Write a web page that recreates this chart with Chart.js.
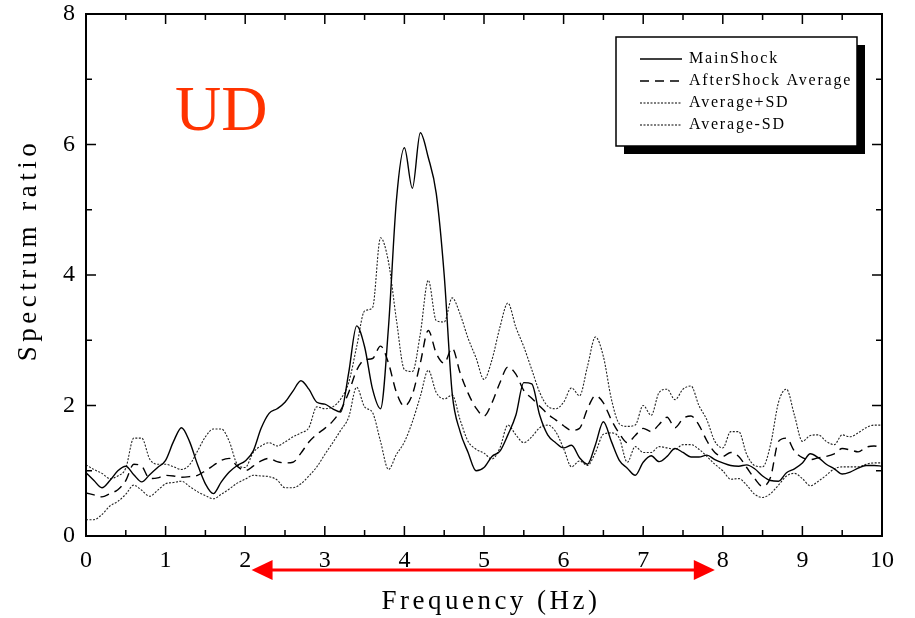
<!DOCTYPE html>
<html>
<head>
<meta charset="utf-8">
<script src="https://cdn.jsdelivr.net/npm/chart.js@4.4.1/dist/chart.umd.min.js"></script>
<style>
  html, body { margin: 0; padding: 0; background: #fff; }
  canvas { display: block; }
</style>
</head>
<body>
<canvas id="chartCanvas" width="915" height="618"></canvas>
<script>
// Frequency grid (Hz), one value every 0.1 Hz
const freq = [
  0.0, 0.1, 0.2, 0.3, 0.4, 0.5, 0.6, 0.7, 0.8, 0.9,
  1.0, 1.1, 1.2, 1.3, 1.4, 1.5, 1.6, 1.7, 1.8, 1.9,
  2.0, 2.1, 2.2, 2.3, 2.4, 2.5, 2.6, 2.7, 2.8, 2.9,
  3.0, 3.1, 3.2, 3.3, 3.4, 3.5, 3.6, 3.7, 3.8, 3.9,
  4.0, 4.1, 4.2, 4.3, 4.4, 4.5, 4.6, 4.7, 4.8, 4.9,
  5.0, 5.1, 5.2, 5.3, 5.4, 5.5, 5.6, 5.7, 5.8, 5.9,
  6.0, 6.1, 6.2, 6.3, 6.4, 6.5, 6.6, 6.7, 6.8, 6.9,
  7.0, 7.1, 7.2, 7.3, 7.4, 7.5, 7.6, 7.7, 7.8, 7.9,
  8.0, 8.1, 8.2, 8.3, 8.4, 8.5, 8.6, 8.7, 8.8, 8.9,
  9.0, 9.1, 9.2, 9.3, 9.4, 9.5, 9.6, 9.7, 9.8, 9.9,
  10.0
];

// Spectrum ratio values
const mainShock = [
  0.97, 0.85, 0.74, 0.85, 1.00, 1.07, 0.94, 0.83, 0.94, 1.05,
  1.16, 1.45, 1.66, 1.45, 1.10, 0.80, 0.65, 0.83, 0.98, 1.08,
  1.15, 1.30, 1.65, 1.88, 1.95, 2.05, 2.22, 2.38, 2.25, 2.05,
  2.02, 1.95, 1.90, 2.50, 3.22, 2.90, 2.25, 1.95, 3.20, 5.15,
  5.95, 5.33, 6.18, 5.80, 5.25, 4.00, 2.19, 1.60, 1.28, 1.00,
  1.05, 1.22, 1.30, 1.55, 1.85, 2.35, 2.33, 1.85, 1.55, 1.43,
  1.35, 1.39, 1.20, 1.10, 1.40, 1.75, 1.45, 1.16, 1.04, 0.93,
  1.13, 1.23, 1.14, 1.22, 1.34, 1.28, 1.21, 1.21, 1.24, 1.17,
  1.12, 1.08, 1.07, 1.09, 1.03, 0.92, 0.85, 0.84, 0.97, 1.03,
  1.12, 1.26, 1.20, 1.10, 1.03, 0.95, 0.98, 1.04, 1.08, 1.08,
  1.07
];

const afterShockAvg = [
  0.66, 0.63, 0.60, 0.65, 0.71, 0.85, 1.10, 1.07, 0.88, 0.89,
  0.93, 0.92, 0.90, 0.91, 0.93, 1.00, 1.08, 1.16, 1.19, 1.07,
  1.00, 1.07, 1.15, 1.19, 1.14, 1.12, 1.13, 1.27, 1.44, 1.56,
  1.65, 1.76, 1.93, 2.20, 2.54, 2.70, 2.72, 2.91, 2.65, 2.20,
  1.99, 2.17, 2.65, 3.15, 2.80, 2.65, 2.88, 2.50, 2.19, 1.96,
  1.84, 2.04, 2.35, 2.59, 2.48, 2.23, 2.11, 1.99, 1.87, 1.78,
  1.69, 1.62, 1.65, 1.95, 2.15, 2.04, 1.78, 1.57, 1.43, 1.54,
  1.65, 1.60, 1.71, 1.82, 1.66, 1.80, 1.84, 1.70, 1.46, 1.28,
  1.22, 1.28, 1.22, 1.05, 0.88, 0.76, 0.90, 1.45, 1.50, 1.30,
  1.20, 1.17, 1.20, 1.22, 1.26, 1.34, 1.32, 1.29, 1.36, 1.38,
  1.35
];

const avgPlusSD = [
  1.09, 1.02, 0.96, 0.88, 0.92, 1.04, 1.50, 1.50, 1.18, 1.10,
  1.10, 1.06, 1.02, 1.09, 1.30, 1.52, 1.64, 1.64, 1.45, 1.10,
  1.05, 1.28, 1.38, 1.43, 1.38, 1.44, 1.52, 1.58, 1.66, 1.98,
  1.95, 1.98, 2.10, 2.35, 2.90, 3.45, 3.50, 4.57, 4.20, 3.31,
  2.55, 2.52, 3.10, 3.92, 3.30, 3.28, 3.65, 3.40, 3.03, 2.73,
  2.40, 2.70, 3.20, 3.57, 3.20, 2.90, 2.55, 2.20, 1.99, 1.95,
  2.05, 2.27, 2.15, 2.60, 3.05, 2.75, 2.10, 1.72, 1.68, 1.70,
  2.00, 1.85, 2.20, 2.25, 2.09, 2.25, 2.30, 2.00, 1.78, 1.45,
  1.35, 1.60, 1.60, 1.25, 1.08, 1.06, 1.40, 2.05, 2.25, 1.85,
  1.45, 1.54, 1.55, 1.45, 1.40, 1.55, 1.52, 1.58, 1.66, 1.70,
  1.70
];

const avgMinusSD = [
  0.25, 0.25, 0.33, 0.46, 0.53, 0.64, 0.78, 0.70, 0.61, 0.70,
  0.80, 0.82, 0.84, 0.76, 0.68, 0.62, 0.57, 0.64, 0.72, 0.81,
  0.87, 0.93, 0.92, 0.91, 0.86, 0.74, 0.74, 0.80, 0.92, 1.06,
  1.25, 1.43, 1.62, 1.82, 2.28, 1.98, 1.89, 1.45, 1.02, 1.25,
  1.44, 1.75, 2.14, 2.54, 2.20, 2.10, 2.16, 1.78, 1.45, 1.33,
  1.27, 1.18, 1.35, 1.70, 1.55, 1.43, 1.52, 1.66, 1.70, 1.60,
  1.34, 1.06, 1.15, 1.08, 1.28, 1.56, 1.58, 1.50, 1.13, 1.37,
  1.28, 1.28, 1.37, 1.35, 1.33, 1.40, 1.40, 1.33, 1.22, 1.10,
  1.00, 0.87, 0.88, 0.78, 0.64, 0.59, 0.65, 0.78, 0.92, 0.96,
  0.88, 0.77, 0.84, 0.93, 1.03, 1.06, 1.06, 1.06, 1.10, 1.12,
  1.12
];

// Frequency band marked by the red arrow (Hz)
const arrowBand = [2.08, 7.9];

const xTitle = 'Frequency (Hz)';
const yTitle = 'Spectrum ratio';
const componentLabel = 'UD';

function toPoints(values) {
    return freq.map(function(f, i) { return { x: f, y: values[i] }; });
}

// Frame, inward ticks, axis titles, legend box, arrow and the UD label
const decorPlugin = {
    id: 'decor',
    afterDraw: function(chart) {
        const ctx = chart.ctx;
        const area = chart.chartArea;
        const xs = chart.scales.x;
        const ys = chart.scales.y;
        ctx.save();

        // frame
        ctx.strokeStyle = '#000';
        ctx.lineWidth = 2;
        ctx.strokeRect(area.left, area.top, area.right - area.left, area.bottom - area.top);

        // inward ticks on all four sides
        ctx.lineWidth = 1.5;
        ctx.beginPath();
        xs.ticks.forEach(function(t, i) {
            const px = xs.getPixelForValue(t.value);
            ctx.moveTo(px, area.bottom); ctx.lineTo(px, area.bottom - 10);
            ctx.moveTo(px, area.top); ctx.lineTo(px, area.top + 10);
            if (i < xs.ticks.length - 1) {
                const mx = xs.getPixelForValue((t.value + xs.ticks[i + 1].value) / 2);
                ctx.moveTo(mx, area.bottom); ctx.lineTo(mx, area.bottom - 6);
                ctx.moveTo(mx, area.top); ctx.lineTo(mx, area.top + 6);
            }
        });
        ys.ticks.forEach(function(t, i) {
            const py = ys.getPixelForValue(t.value);
            ctx.moveTo(area.left, py); ctx.lineTo(area.left + 10, py);
            ctx.moveTo(area.right, py); ctx.lineTo(area.right - 10, py);
            if (i < ys.ticks.length - 1) {
                const my = ys.getPixelForValue((t.value + ys.ticks[i + 1].value) / 2);
                ctx.moveTo(area.left, my); ctx.lineTo(area.left + 6, my);
                ctx.moveTo(area.right, my); ctx.lineTo(area.right - 6, my);
            }
        });
        ctx.stroke();

        // axis titles (spaced serif to look like the original monospace face)
        ctx.fillStyle = '#000';
        ctx.font = '27px "Liberation Serif"';
        ctx.textAlign = 'center';
        ctx.textBaseline = 'middle';
        ctx.letterSpacing = '3.5px';
        ctx.fillText(xTitle, (area.left + area.right) / 2 + 7, 602);
        ctx.save();
        ctx.translate(29, 250);
        ctx.rotate(-Math.PI / 2);
        ctx.letterSpacing = '4.5px';
        ctx.fillText(yTitle, 0, 0);
        ctx.restore();
        ctx.letterSpacing = '0px';

        // red double arrow under the axis
        const ax1 = xs.getPixelForValue(arrowBand[0]);
        const ax2 = xs.getPixelForValue(arrowBand[1]);
        const ay = 570;
        ctx.strokeStyle = '#ff0000';
        ctx.fillStyle = '#ff0000';
        ctx.lineWidth = 3;
        ctx.beginPath();
        ctx.moveTo(ax1 + 15, ay); ctx.lineTo(ax2 - 15, ay);
        ctx.stroke();
        ctx.beginPath();
        ctx.moveTo(ax1, ay); ctx.lineTo(ax1 + 21, ay - 10); ctx.lineTo(ax1 + 21, ay + 10);
        ctx.closePath(); ctx.fill();
        ctx.beginPath();
        ctx.moveTo(ax2, ay); ctx.lineTo(ax2 - 21, ay - 10); ctx.lineTo(ax2 - 21, ay + 10);
        ctx.closePath(); ctx.fill();

        // component label
        ctx.fillStyle = '#ff3300';
        ctx.font = '64px "Liberation Serif"';
        ctx.textAlign = 'left';
        ctx.textBaseline = 'alphabetic';
        ctx.fillText(componentLabel, 175, 130);

        // legend box with drop shadow
        const bx = area.right - 266, by = area.top + 23, bw = 241, bh = 109;
        ctx.fillStyle = '#000';
        ctx.fillRect(bx + 8, by + 8, bw, bh);
        ctx.fillStyle = '#fff';
        ctx.fillRect(bx, by, bw, bh);
        ctx.strokeStyle = '#000';
        ctx.lineWidth = 1.5;
        ctx.strokeRect(bx, by, bw, bh);
        ctx.font = '16px "Liberation Serif"';
        ctx.textBaseline = 'middle';
        ctx.letterSpacing = '1.8px';
        chart.data.datasets.forEach(function(ds, i) {
            const ly = by + 22 + i * 22;
            ctx.strokeStyle = '#000';
            ctx.lineWidth = ds.borderWidth;
            ctx.setLineDash(ds.borderDash || []);
            ctx.beginPath();
            ctx.moveTo(bx + 24, ly); ctx.lineTo(bx + 66, ly);
            ctx.stroke();
            ctx.setLineDash([]);
            ctx.fillStyle = '#000';
            ctx.fillText(ds.label, bx + 73, ly);
        });
        ctx.letterSpacing = '0px';

        ctx.restore();
    }
};

const ctx = document.getElementById('chartCanvas').getContext('2d');
const spectrumChart = new Chart(ctx, {
    type: 'line',
    data: {
        datasets: [
            {
                label: 'MainShock',
                data: toPoints(mainShock),
                borderColor: '#000',
                borderWidth: 1.4,
                pointRadius: 0,
                fill: false
            },
            {
                label: 'AfterShock Average',
                data: toPoints(afterShockAvg),
                borderColor: '#000',
                borderWidth: 1.4,
                borderDash: [9, 6],
                pointRadius: 0,
                fill: false
            },
            {
                label: 'Average+SD',
                data: toPoints(avgPlusSD),
                borderColor: '#222',
                borderWidth: 1.1,
                borderDash: [2, 1.5],
                pointRadius: 0,
                fill: false
            },
            {
                label: 'Average-SD',
                data: toPoints(avgMinusSD),
                borderColor: '#222',
                borderWidth: 1.1,
                borderDash: [2, 1.5],
                pointRadius: 0,
                fill: false
            }
        ]
    },
    options: {
        responsive: false,
        animation: false,
        cubicInterpolationMode: 'monotone',
        layout: { padding: { left: 0, top: 14, right: 33, bottom: 0 } },
        plugins: {
            legend: { display: false },
            tooltip: { enabled: false }
        },
        scales: {
            x: {
                type: 'linear',
                min: 0,
                max: 10,
                border: { display: false },
                grid: { display: false, drawTicks: false, tickLength: 0 },
                ticks: {
                    stepSize: 1,
                    color: '#000',
                    padding: 10,
                    maxRotation: 0,
                    font: { family: '"Liberation Serif"', size: 24 }
                },
                afterFit: function(scale) {
                    scale.height = 82;
                    scale.paddingLeft = 0; scale.paddingRight = 0;
                    scale.paddingTop = 0; scale.paddingBottom = 0;
                }
            },
            y: {
                min: 0,
                max: 8,
                border: { display: false },
                grid: { display: false, drawTicks: false, tickLength: 0 },
                ticks: {
                    stepSize: 2,
                    color: '#000',
                    padding: 11,
                    font: { family: '"Liberation Serif"', size: 24 }
                },
                afterFit: function(scale) {
                    scale.width = 86;
                    scale.paddingLeft = 0; scale.paddingRight = 0;
                    scale.paddingTop = 0; scale.paddingBottom = 0;
                }
            }
        }
    },
    plugins: [decorPlugin]
});
</script>
</body>
</html>
